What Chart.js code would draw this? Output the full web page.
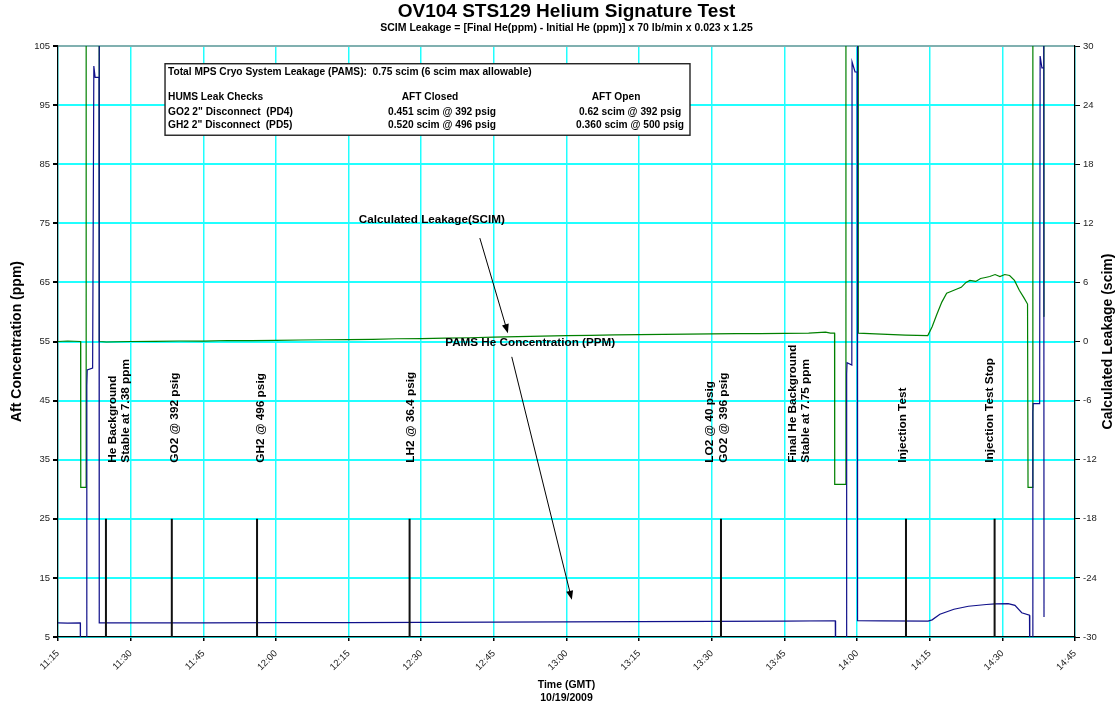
<!DOCTYPE html>
<html>
<head>
<meta charset="utf-8">
<title>OV104 STS129 Helium Signature Test</title>
<script src="https://cdn.jsdelivr.net/npm/chart.js@4/dist/chart.umd.min.js"></script>
<style>
  html, body { margin: 0; padding: 0; background: #fff; }
</style>
</head>
<body>
<canvas id="heChart" width="1120" height="702"></canvas>
<script>
// time axis (GMT, 10/19/2009)
var axisStart = '11:15:00';
var axisEnd = '14:45:00';
var tickStep = 15;
var leftTicks = { min: 5, max: 105, step: 10 };
var rightTicks = { min: -30, max: 30, step: 6 };

// PAMS He concentration (ppm) - left axis
var heTimes = ['11:15:00', '11:17:00', '11:19:36', '11:19:38', '11:20:55', '11:20:57', '11:21:02', '11:22:09',
  '11:22:24', '11:22:40', '11:23:28', '11:23:30', '11:23:32', '11:30:00', '11:45:00', '12:00:00', '12:15:00',
  '12:30:00', '12:45:00', '13:00:00', '13:15:00', '13:30:00', '13:45:00', '13:55:30', '13:55:34', '13:57:49',
  '13:57:51', '13:57:56', '13:58:55', '13:58:58', '13:59:35', '14:00:02', '14:00:04', '14:00:08', '14:05:00',
  '14:14:40', '14:15:30', '14:17:06', '14:20:00', '14:23:00', '14:26:42', '14:28:30', '14:31:12', '14:32:36',
  '14:34:00', '14:35:36', '14:35:40', '14:36:16', '14:36:18', '14:36:22', '14:37:42', '14:37:48', '14:38:10',
  '14:38:30', '14:38:33', '14:38:36'];
var heValues = [7.38, 7.36, 7.38, 0, 0, 47.5, 50.2, 50.5,
  101.6, 99.7, 99.7, 112, 7.38, 7.38, 7.40, 7.42, 7.44,
  7.47, 7.52, 7.56, 7.60, 7.64, 7.70, 7.75, 0, 0,
  49.5, 51.4, 51.0, 102.3, 100.6, 100.6, 112, 7.75, 7.74,
  7.70, 7.9, 8.84, 9.7, 10.2, 10.5, 10.6, 10.65, 10.35,
  9.1, 8.7, 0, 0, 43, 44.5, 44.5, 103.3, 101.3,
  101.3, 112, 8.4];

// calculated leakage (scim) - right axis
var leakTimes = ['11:15:00', '11:17:00', '11:19:40', '11:19:42', '11:20:47', '11:20:49', '11:23:30', '11:23:32',
  '11:25:00', '11:30:00', '11:35:00', '11:40:00', '11:45:00', '11:50:00', '11:55:00', '12:00:00', '12:05:00',
  '12:10:00', '12:15:00', '12:20:00', '12:25:00', '12:30:00', '12:35:00', '12:40:00', '12:45:00', '12:50:00',
  '12:55:00', '13:00:00', '13:05:00', '13:10:00', '13:15:00', '13:20:00', '13:25:00', '13:30:00', '13:35:00',
  '13:40:00', '13:45:00', '13:50:00', '13:53:30', '13:54:30', '13:55:21', '13:55:23', '13:57:40', '13:57:42',
  '14:00:13', '14:00:15', '14:05:00', '14:10:00', '14:14:36', '14:15:30', '14:16:30', '14:17:30', '14:18:30',
  '14:19:30', '14:20:30', '14:21:30', '14:22:30', '14:23:18', '14:24:30', '14:25:30', '14:26:30', '14:27:24',
  '14:28:30', '14:29:30', '14:30:30', '14:31:30', '14:32:30', '14:33:30', '14:34:30', '14:35:12', '14:35:18',
  '14:36:16', '14:36:18', '14:38:34', '14:38:36'];
var leakValues = [0.0, 0.05, 0.0, -14.8, -14.8, 40, 40, 0.0,
  -0.05, 0.0, 0.02, 0.05, 0.04, 0.1, 0.08, 0.12, 0.15,
  0.18, 0.2, 0.22, 0.28, 0.3, 0.35, 0.38, 0.45, 0.5,
  0.55, 0.6, 0.62, 0.68, 0.7, 0.72, 0.75, 0.78, 0.8,
  0.8, 0.82, 0.85, 0.95, 0.85, 0.85, -14.5, -14.5, 40,
  40, 0.85, 0.75, 0.65, 0.6, 1.5, 2.8, 4.0, 4.9,
  5.1, 5.3, 5.5, 6.0, 6.2, 6.1, 6.4, 6.5, 6.6,
  6.8, 6.6, 6.8, 6.7, 6.2, 5.2, 4.4, 3.8, -14.8,
  -14.8, 40, 40, 2.5];

// event marks (drawn from 5 to 25 ppm)
var eventTimes = ['11:24:54', '11:38:30', '11:56:06', '12:27:36', '13:31:54', '14:10:06', '14:28:24'];
var eventLow = 5, eventHigh = 25;

// vertical event captions
var captions = [
  { time: '11:27:36', lines: ['He Background', 'Stable at 7.38 ppm'] },
  { time: '11:39:10', lines: ['GO2 @ 392 psig'] },
  { time: '11:56:55', lines: ['GH2 @ 496 psig'] },
  { time: '12:27:53', lines: ['LH2 @ 36.4 psig'] },
  { time: '13:31:04', lines: ['LO2 @ 40 psig', 'GO2 @ 396 psig'] },
  { time: '13:48:06', lines: ['Final He Background', 'Stable at 7.75 ppm'] },
  { time: '14:09:29', lines: ['Injection Test'] },
  { time: '14:27:26', lines: ['Injection Test Stop'] }
];
var captionBase = 34.5;

var leakNote = { text: 'Calculated Leakage(SCIM)', at: ['12:32:12', 75.6], from: ['12:42:06', 72.5], to: ['12:47:54', 56.4] };
var pamsNote = { text: 'PAMS He Concentration (PPM)', at: ['12:52:30', 54.7], from: ['12:48:42', 52.4], to: ['13:01:06', 11.3] };

var boxTimes = ['11:37:06', '13:25:30'];
var boxValues = [102, 89.9];
var boxLines = [
  ['Total MPS Cryo System Leakage (PAMS):  0.75 scim (6 scim max allowable)', '', ''],
  ['HUMS Leak Checks', 'AFT Closed', 'AFT Open'],
  ['GO2 2" Disconnect  (PD4)', '0.451 scim @ 392 psig', '0.62 scim @ 392 psig'],
  ['GH2 2" Disconnect  (PD5)', '0.520 scim @ 496 psig', '0.360 scim @ 500 psig']
];

var FONT = "'Liberation Sans', Arial, sans-serif";

function toMin(s) {
  var p = s.split(':');
  return (+p[0]) * 60 + (+p[1]) + (p[2] ? (+p[2]) / 60 : 0);
}
function fmtTime(m) {
  var h = Math.floor(m / 60 + 1e-6);
  var mm = Math.round(m - h * 60);
  return h + ':' + (mm < 10 ? '0' : '') + mm;
}
function pairs(times, vals) {
  var out = [];
  for (var i = 0; i < times.length; i++) out.push({ x: toMin(times[i]), y: vals[i] });
  return out;
}

var eventPts = [];
eventTimes.forEach(function (t) {
  eventPts.push({ x: toMin(t), y: eventLow });
  eventPts.push({ x: toMin(t), y: eventHigh });
  eventPts.push({ x: toMin(t), y: null });
});

function arrow(ctx, x1, y1, x2, y2) {
  var a = Math.atan2(y2 - y1, x2 - x1);
  ctx.beginPath();
  ctx.moveTo(x1, y1);
  ctx.lineTo(x2 - 7 * Math.cos(a), y2 - 7 * Math.sin(a));
  ctx.stroke();
  ctx.beginPath();
  ctx.moveTo(x2, y2);
  ctx.lineTo(x2 - 9 * Math.cos(a) + 3.5 * Math.sin(a), y2 - 9 * Math.sin(a) - 3.5 * Math.cos(a));
  ctx.lineTo(x2 - 9 * Math.cos(a) - 3.5 * Math.sin(a), y2 - 9 * Math.sin(a) + 3.5 * Math.cos(a));
  ctx.closePath();
  ctx.fill();
}

var notesPlugin = {
  id: 'notes',
  afterDatasetsDraw: function (chart) {
    var ctx = chart.ctx;
    var xs = chart.scales.x, yl = chart.scales.yLeft, yr = chart.scales.yRight;
    var px = function (t) { return xs.getPixelForValue(toMin(t)); };
    var py = function (v) { return yl.getPixelForValue(v); };
    ctx.save();
    ctx.fillStyle = '#000';
    ctx.strokeStyle = '#000';

    // rotated event captions
    ctx.font = 'bold 11.8px ' + FONT;
    ctx.textAlign = 'left';
    ctx.textBaseline = 'middle';
    captions.forEach(function (c) {
      ctx.save();
      ctx.translate(px(c.time), py(captionBase));
      ctx.rotate(-Math.PI / 2);
      c.lines.forEach(function (ln, i) {
        ctx.fillText(ln, 0, (i - (c.lines.length - 1) / 2) * 13.5);
      });
      ctx.restore();
    });

    // notes with arrows
    ctx.font = 'bold 11.7px ' + FONT;
    ctx.textAlign = 'center';
    ctx.lineWidth = 1;
    [leakNote, pamsNote].forEach(function (n) {
      ctx.fillText(n.text, px(n.at[0]), py(n.at[1]));
      arrow(ctx, px(n.from[0]), py(n.from[1]), px(n.to[0]), py(n.to[1]));
    });

    // summary box
    var bx = px(boxTimes[0]), bx2 = px(boxTimes[1]);
    var by = py(boxValues[0]), by2 = py(boxValues[1]);
    ctx.fillStyle = '#fff';
    ctx.fillRect(bx, by, bx2 - bx, by2 - by);
    ctx.lineWidth = 1.4;
    ctx.strokeStyle = '#222';
    ctx.strokeRect(bx, by, bx2 - bx, by2 - by);
    ctx.fillStyle = '#000';
    ctx.font = 'bold 10.2px ' + FONT;
    var rowY = [8, 33.5, 48, 61];
    boxLines.forEach(function (row, i) {
      ctx.textAlign = 'left';
      ctx.fillText(row[0], bx + 3, by + rowY[i]);
      ctx.textAlign = 'center';
      if (row[1]) ctx.fillText(row[1], bx + (i === 1 ? 265 : 277), by + rowY[i]);
      if (row[2]) ctx.fillText(row[2], bx + (i === 1 ? 451 : 465), by + rowY[i]);
    });

    // right axis title, reading upwards
    ctx.font = 'bold 14px ' + FONT;
    ctx.textAlign = 'center';
    ctx.translate(yr.right - 12, (chart.chartArea.top + chart.chartArea.bottom) / 2);
    ctx.rotate(-Math.PI / 2);
    ctx.fillText('Calculated Leakage (scim)', 0, 0);
    ctx.restore();
  }
};

new Chart(document.getElementById('heChart').getContext('2d'), {
  type: 'line',
  data: {
    datasets: [
      {
        label: 'Events',
        data: eventPts,
        yAxisID: 'yLeft',
        borderColor: '#111',
        borderWidth: 2,
        pointRadius: 0,
        spanGaps: false,
        order: 0
      },
      {
        label: 'PAMS He Concentration (PPM)',
        data: pairs(heTimes, heValues),
        yAxisID: 'yLeft',
        borderColor: '#10108a',
        borderWidth: 1.2,
        pointRadius: 0,
        order: 1
      },
      {
        label: 'Calculated Leakage(SCIM)',
        data: pairs(leakTimes, leakValues),
        yAxisID: 'yRight',
        borderColor: '#008000',
        borderWidth: 1.2,
        pointRadius: 0,
        order: 2
      }
    ]
  },
  options: {
    responsive: false,
    animation: false,
    parsing: false,
    layout: { padding: 0 },
    plugins: {
      legend: { display: false },
      tooltip: { enabled: false },
      title: {
        display: true,
        fullSize: false,
        text: 'OV104 STS129 Helium Signature Test',
        color: '#000',
        font: { family: FONT, size: 19, weight: 'bold', lineHeight: 1.1 },
        padding: { top: 1.5, bottom: 0 }
      },
      subtitle: {
        display: true,
        fullSize: false,
        text: 'SCIM Leakage = [Final He(ppm) - Initial He (ppm)] x 70 lb/min x 0.023 x 1.25',
        color: '#000',
        font: { family: FONT, size: 10.5, weight: 'bold', lineHeight: 1.0 },
        padding: { top: 0, bottom: 13.1 }
      }
    },
    scales: {
      x: {
        type: 'linear',
        min: toMin(axisStart),
        max: toMin(axisEnd),
        afterFit: function (s) { s.height = 65; },
        ticks: {
          stepSize: tickStep,
          autoSkip: false,
          minRotation: 45,
          maxRotation: 45,
          padding: 7,
          color: '#222',
          font: { family: FONT, size: 9.5 },
          callback: function (v) { return fmtTime(v); }
        },
        grid: { color: '#20FFFF', lineWidth: 1.5, tickColor: '#000', tickLength: 4 },
        border: { color: '#000', width: 1.2 },
        title: {
          display: true,
          text: ['Time (GMT)', '10/19/2009'],
          color: '#000',
          font: { family: FONT, size: 10.5, weight: 'bold', lineHeight: 1.24 },
          padding: { top: 0, bottom: -3 }
        }
      },
      yLeft: {
        type: 'linear',
        position: 'left',
        min: leftTicks.min,
        max: leftTicks.max,
        afterFit: function (s) { s.width = 58; },
        ticks: { stepSize: leftTicks.step, padding: 3, color: '#222', font: { family: FONT, size: 9.5 } },
        grid: {
          color: function (c) { return c.tick && c.tick.value === leftTicks.max ? '#80B0B0' : '#20FFFF'; },
          lineWidth: 2,
          tickColor: '#000',
          tickLength: 5
        },
        border: { color: '#000', width: 1.2 },
        title: {
          display: true,
          text: 'Aft Concentration (ppm)',
          color: '#000',
          font: { family: FONT, size: 14, weight: 'bold' },
          padding: { top: 8.6, bottom: 0 }
        }
      },
      yRight: {
        type: 'linear',
        position: 'right',
        min: rightTicks.min,
        max: rightTicks.max,
        afterFit: function (s) { s.width = 45; },
        ticks: { stepSize: rightTicks.step, padding: 3, color: '#222', font: { family: FONT, size: 9.5 } },
        grid: { drawOnChartArea: false, tickColor: '#000', tickLength: 5 },
        border: { color: '#000', width: 1.2 }
      }
    }
  },
  plugins: [notesPlugin]
});
</script>
</body>
</html>
